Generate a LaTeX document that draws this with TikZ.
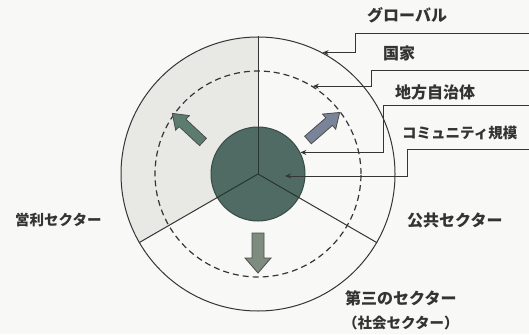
\documentclass[tikz,border=0pt]{standalone}
\usepackage{fontspec}
\newfontfamily\jp{Noto Sans CJK JP}
\usetikzlibrary{arrows.meta,calc}
\definecolor{bgc}{HTML}{F8F8F6}
\definecolor{secc}{HTML}{E8E8E5}
\definecolor{innerc}{HTML}{4F6B64}
\definecolor{linec}{HTML}{353535}
\definecolor{arrL}{HTML}{5C7C70}
\definecolor{arrR}{HTML}{7A8499}
\definecolor{arrB}{HTML}{7D8C7E}
\tikzset{
  lbl/.style={font=\jp\bfseries\fontsize{16}{18}\selectfont, text=black!80, inner sep=0pt},
  lbls/.style={lbl, font=\jp\bfseries\fontsize{14.5}{17}\selectfont},
  ring/.style={draw=linec, line width=1pt},
  leader/.style={draw=linec, line width=1pt, -{Stealth[length=6pt,width=5pt]}},
  blockarrow/.style={draw=black!70, line width=0.8pt, line join=miter}
}
\begin{document}
\begin{tikzpicture}[x=1pt,y=-1pt]
\fill[bgc] (0,0) rectangle (529,334);
\useasboundingbox (0,0) rectangle (529,334);
\coordinate (c) at (258,174);
% shaded sector
\fill[secc] (c) -- ++(90:-137) arc[start angle=-90, end angle=-210, radius=137] -- cycle;
% outer circle
\node[ring, circle, minimum size=274pt, inner sep=0pt] (outer) at (c) {};
% dashed circle
\node[draw=linec, line width=1.2pt, dash pattern=on 6pt off 4pt, circle, minimum size=206pt, inner sep=0pt] (dash) at (c) {};
% sector lines
\draw[linec, line width=1pt] (c) -- (outer.90);
\draw[linec, line width=1pt] (c) -- (outer.210);
\draw[linec, line width=1pt] (c) -- (outer.330);
% inner circle
\node[fill=innerc, draw=innerc!70!black, line width=1pt, circle, minimum size=94pt, inner sep=0pt] (inner) at (c) {};
\draw[innerc!50!black, line width=1pt] (c) -- (inner.90);
\draw[innerc!50!black, line width=1pt] (c) -- (inner.210);
\draw[innerc!50!black, line width=1pt] (c) -- (inner.330);
% block arrows
\begin{scope}[shift={(203,142)}, rotate=137]
\filldraw[blockarrow, fill=arrL] (0,-5) -- (28,-5) -- (28,-10) -- (42,0) -- (28,10) -- (28,5) -- (0,5) -- cycle;
\end{scope}
\begin{scope}[shift={(308,140)}, rotate=41]
\filldraw[blockarrow, fill=arrR] (0,-5) -- (28,-5) -- (28,-10) -- (42,0) -- (28,10) -- (28,5) -- (0,5) -- cycle;
\end{scope}
\begin{scope}[shift={(258,233)}, rotate=-90]
\filldraw[blockarrow, fill=arrB] (0,-6) -- (25,-6) -- (25,-13) -- (40,0) -- (25,13) -- (25,6) -- (0,6) -- cycle;
\end{scope}
% leader lines
\coordinate (e1) at (529,34);
\coordinate (e2) at (529,71);
\coordinate (e3) at (529,105);
\coordinate (e4) at (529,149);
\coordinate (t4) at (285,176);
\draw[leader] (e1) -| ([xshift=33pt]outer.62) -- (outer.62);
\draw[leader] (e2) -| ([xshift=59pt]dash.58) -- (dash.58);
\draw[leader] (e3) -| ([xshift=83pt]inner.27) -- (inner.27);
\draw[leader] (e4) -| ($(t4)+(122,0)$) -- (t4);
% labels
\node[lbl, anchor=west] (l1) at (367,15) {グローバル};
\node[lbl, anchor=west] (l2) at (383,53) {国家};
\node[lbl, anchor=west] (l3) at (395,92) {地方自治体};
\node[lbls, anchor=west] (l4) at (402,133) {コミュニティ規模};
\node[lbls, anchor=west] (s1) at (15,220) {営利セクター};
\node[lbl, anchor=west] (s2) at (407,220) {公共セクター};
\node[lbl, anchor=west] (s3) at (345,298) {第三のセクター};
\node[lbls, anchor=west] (s4) at (343,323) {（社会セクター）};
\end{tikzpicture}
\end{document}
